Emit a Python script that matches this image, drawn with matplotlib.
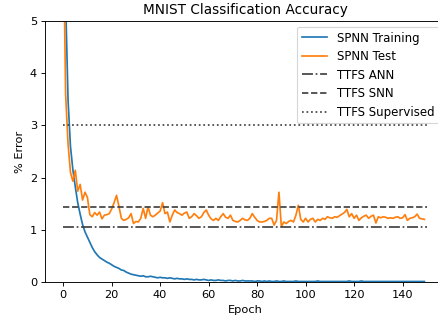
import numpy as np
import matplotlib
matplotlib.use('Agg')
import matplotlib.pyplot as plt

# Error (%) por epoca
train_error = [
    9.0, 5.4, 3.5, 2.6, 2.15, 1.82, 1.52, 1.30, 1.10, 0.96,
    0.86, 0.76, 0.66, 0.58, 0.52, 0.47, 0.44, 0.41, 0.38, 0.36,
    0.33, 0.30, 0.28, 0.26, 0.23, 0.22, 0.19, 0.17, 0.15, 0.14,
    0.13, 0.12, 0.11, 0.12, 0.10, 0.10, 0.11, 0.10, 0.09, 0.08,
    0.09, 0.08, 0.08, 0.07, 0.08, 0.07, 0.06, 0.07, 0.06, 0.06,
    0.05, 0.06, 0.05, 0.05, 0.04, 0.05, 0.04, 0.04, 0.05, 0.04,
    0.03, 0.04, 0.03, 0.03, 0.04, 0.03, 0.03, 0.02, 0.03, 0.03,
    0.02, 0.03, 0.02, 0.02, 0.03, 0.02, 0.02, 0.02, 0.02, 0.01,
    0.02, 0.02, 0.01, 0.02, 0.01, 0.02, 0.01, 0.01, 0.02, 0.01,
    0.01, 0.02, 0.01, 0.01, 0.01, 0.01, 0.02, 0.01, 0.01, 0.01,
    0.01, 0.01, 0.01, 0.01, 0.01, 0.02, 0.01, 0.01, 0.01, 0.01,
    0.01, 0.01, 0.01, 0.01, 0.01, 0.01, 0.01, 0.01, 0.02, 0.01,
    0.01, 0.01, 0.01, 0.02, 0.01, 0.01, 0.01, 0.01, 0.01, 0.01,
    0.01, 0.01, 0.01, 0.01, 0.01, 0.01, 0.01, 0.01, 0.01, 0.01,
    0.01, 0.01, 0.01, 0.01, 0.01, 0.01, 0.01, 0.01, 0.01, 0.01,
]
test_error = [
    7.0, 3.6, 2.65, 2.1, 1.93, 2.14, 1.74, 1.87, 1.57, 1.72,
    1.62, 1.29, 1.25, 1.33, 1.28, 1.34, 1.21, 1.28, 1.29, 1.31,
    1.40, 1.52, 1.66, 1.45, 1.22, 1.18, 1.20, 1.23, 1.31, 1.12,
    1.16, 1.15, 1.22, 1.41, 1.22, 1.44, 1.28, 1.25, 1.28, 1.32,
    1.36, 1.52, 1.31, 1.34, 1.15, 1.28, 1.38, 1.33, 1.31, 1.28,
    1.32, 1.34, 1.22, 1.25, 1.31, 1.27, 1.22, 1.25, 1.33, 1.38,
    1.28, 1.21, 1.18, 1.22, 1.18, 1.25, 1.31, 1.24, 1.22, 1.28,
    1.18, 1.16, 1.15, 1.18, 1.22, 1.19, 1.18, 1.22, 1.31, 1.24,
    1.18, 1.15, 1.15, 1.16, 1.18, 1.22, 1.22, 1.09, 1.18, 1.72,
    1.06, 1.15, 1.12, 1.16, 1.18, 1.15, 1.28, 1.47, 1.20, 1.15,
    1.22, 1.15, 1.20, 1.22, 1.15, 1.20, 1.18, 1.22, 1.20, 1.25,
    1.23, 1.22, 1.25, 1.24, 1.27, 1.30, 1.33, 1.39, 1.25, 1.31,
    1.22, 1.28, 1.18, 1.23, 1.26, 1.28, 1.22, 1.26, 1.28, 1.13,
    1.25, 1.23, 1.25, 1.24, 1.22, 1.23, 1.22, 1.24, 1.25, 1.22,
    1.23, 1.29, 1.18, 1.22, 1.23, 1.25, 1.30, 1.22, 1.21, 1.20,
]
ttfs_ann = 1.05
ttfs_snn = 1.43
ttfs_supervised = 3.01
n_epochs = 150

dpi = 82
fig = plt.figure(figsize=(438 / dpi, 322 / dpi), dpi=dpi)
ax = fig.add_axes([45 / 438, 40 / 322, 400 / 438, 261 / 322])

epochs = np.arange(len(train_error))
ax.plot(epochs, train_error, label='SPNN Training')
ax.plot(epochs, test_error, label='SPNN Test')
ax.plot([0, n_epochs], [ttfs_ann, ttfs_ann], color='0.25', linestyle='-.', label='TTFS ANN')
ax.plot([0, n_epochs], [ttfs_snn, ttfs_snn], color='0.25', linestyle='--', label='TTFS SNN')
ax.plot([0, n_epochs], [ttfs_supervised, ttfs_supervised], color='0.25', linestyle=':', label='TTFS Supervised')

ax.set_ylim(0, 5)
ax.set_xlabel('Epoch')
ax.set_ylabel('% Error')
ax.set_title('MNIST Classification Accuracy')
ax.legend(loc='upper right', fontsize=10.3, labelspacing=0.47, handlelength=2.2)

fig.savefig('out.png', dpi=dpi)
